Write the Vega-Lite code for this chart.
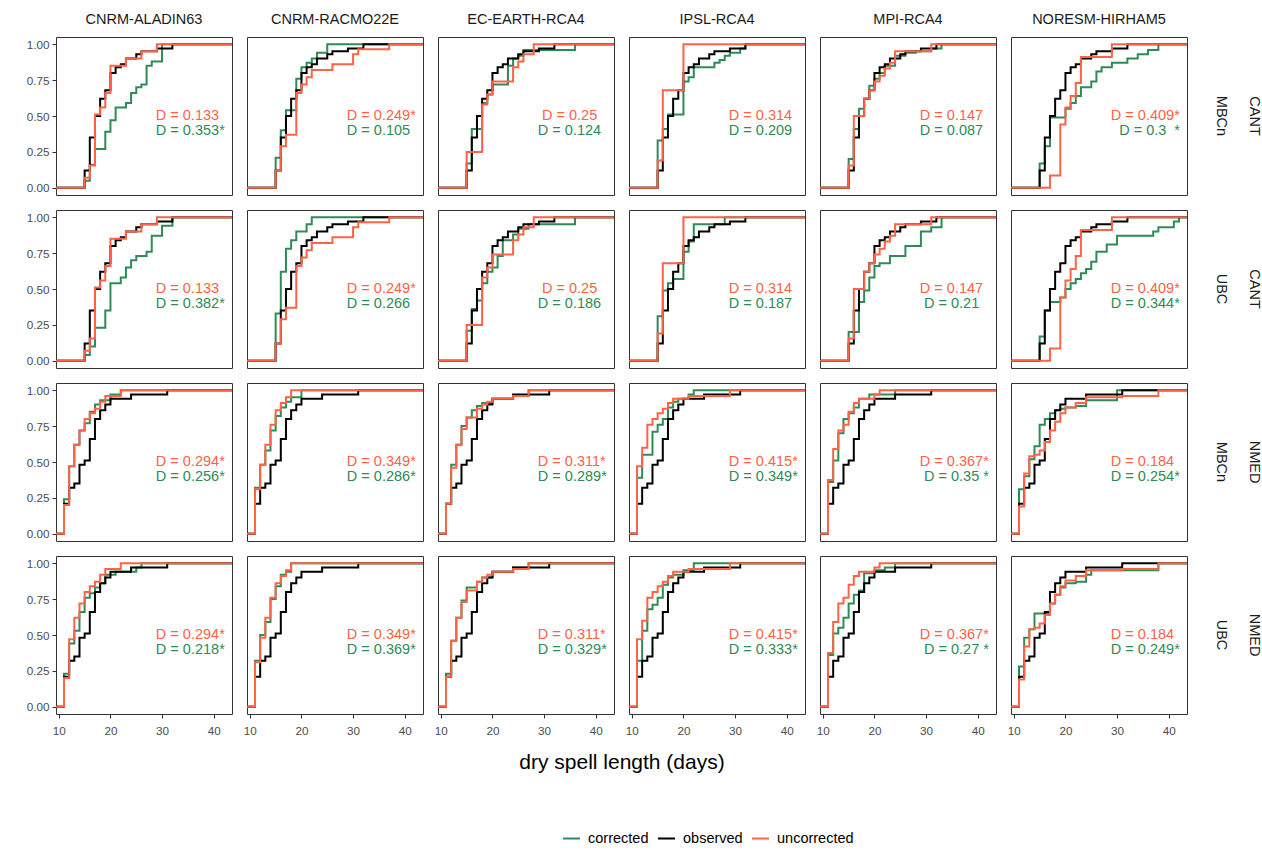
{
"$schema": "https://vega.github.io/schema/vega-lite/v6.json",
"background": "white",
"bounds": "flush",
"padding": {"left": 26, "top": 11, "right": 2, "bottom": 5},
"data": {"values": "m,r,s,x,y,t\nA,1,c,9.45,0\nA,1,c,15,.05\nA,1,c,16,.16\nA,1,c,17,.27\nA,1,c,19,.39\nA,1,c,20,.47\nA,1,c,21,.56\nA,1,c,23,.59\nA,1,c,24,.66\nA,1,c,25,.7\nA,1,c,26,.72\nA,1,c,27,.85\nA,1,c,28,.88\nA,1,c,30,1\nA,1,c,43.55,1\nA,1,o,9.45,0\nA,1,o,15,.12\nA,1,o,16,.35\nA,1,o,17,.5\nA,1,o,18,.62\nA,1,o,19,.68\nA,1,o,20,.8\nA,1,o,21,.84\nA,1,o,22,.86\nA,1,o,23,.9\nA,1,o,25,.93\nA,1,o,26,.95\nA,1,o,29,.97\nA,1,o,32,1\nA,1,o,43.55,1\nA,1,u,9.45,0\nA,1,u,15,.07\nA,1,u,16,.155\nA,1,u,17,.51\nA,1,u,18,.56\nA,1,u,19,.66\nA,1,u,20,.85\nA,1,u,23,.9\nA,1,u,26,.95\nA,1,u,29,1\nA,1,u,43.55,1\nA,1,U,28.8,.5,D = 0.133\nA,1,C,28.8,.395,D = 0.353*\nA,2,c,9.45,0\nA,2,c,15,.04\nA,2,c,16,.1\nA,2,c,17,.23\nA,2,c,19,.35\nA,2,c,20,.54\nA,2,c,22,.58\nA,2,c,23,.65\nA,2,c,24,.7\nA,2,c,25,.73\nA,2,c,27,.76\nA,2,c,28,.87\nA,2,c,30,.94\nA,2,c,32,1\nA,2,c,43.55,1\nA,2,o,9.45,0\nA,2,o,15,.12\nA,2,o,16,.35\nA,2,o,17,.5\nA,2,o,18,.62\nA,2,o,19,.68\nA,2,o,20,.8\nA,2,o,21,.84\nA,2,o,22,.86\nA,2,o,23,.9\nA,2,o,25,.93\nA,2,o,26,.95\nA,2,o,29,.97\nA,2,o,32,1\nA,2,o,43.55,1\nA,2,u,9.45,0\nA,2,u,15,.07\nA,2,u,16,.155\nA,2,u,17,.51\nA,2,u,18,.56\nA,2,u,19,.66\nA,2,u,20,.85\nA,2,u,23,.9\nA,2,u,26,.95\nA,2,u,29,1\nA,2,u,43.55,1\nA,2,U,28.8,.5,D = 0.133\nA,2,C,28.8,.395,D = 0.382*\nA,3,c,9.45,0\nA,3,c,11,.24\nA,3,c,12,.47\nA,3,c,13,.62\nA,3,c,14,.72\nA,3,c,15,.77\nA,3,c,16,.85\nA,3,c,17,.9\nA,3,c,18,.93\nA,3,c,20,.97\nA,3,c,22,1\nA,3,c,43.55,1\nA,3,o,9.45,0\nA,3,o,11,.21\nA,3,o,12,.32\nA,3,o,13,.35\nA,3,o,14,.48\nA,3,o,15,.51\nA,3,o,16,.66\nA,3,o,17,.8\nA,3,o,18,.86\nA,3,o,19,.9\nA,3,o,20,.94\nA,3,o,24,.97\nA,3,o,31,1\nA,3,o,43.55,1\nA,3,u,9.45,0\nA,3,u,11,.2\nA,3,u,12,.47\nA,3,u,13,.62\nA,3,u,14,.72\nA,3,u,15,.8\nA,3,u,16,.84\nA,3,u,17,.87\nA,3,u,18,.92\nA,3,u,19,.96\nA,3,u,22,1\nA,3,u,43.55,1\nA,3,U,28.8,.5,D = 0.294*\nA,3,C,28.8,.395,D = 0.256*\nA,4,c,9.45,0\nA,4,c,11,.23\nA,4,c,12,.44\nA,4,c,13,.53\nA,4,c,14,.66\nA,4,c,15,.76\nA,4,c,16,.79\nA,4,c,17,.83\nA,4,c,18,.86\nA,4,c,19,.92\nA,4,c,21,.94\nA,4,c,25,.97\nA,4,c,26,1\nA,4,c,43.55,1\nA,4,o,9.45,0\nA,4,o,11,.21\nA,4,o,12,.32\nA,4,o,13,.35\nA,4,o,14,.48\nA,4,o,15,.51\nA,4,o,16,.66\nA,4,o,17,.8\nA,4,o,18,.86\nA,4,o,19,.9\nA,4,o,20,.94\nA,4,o,24,.97\nA,4,o,31,1\nA,4,o,43.55,1\nA,4,u,9.45,0\nA,4,u,11,.2\nA,4,u,12,.47\nA,4,u,13,.62\nA,4,u,14,.72\nA,4,u,15,.8\nA,4,u,16,.84\nA,4,u,17,.87\nA,4,u,18,.92\nA,4,u,19,.96\nA,4,u,22,1\nA,4,u,43.55,1\nA,4,U,28.8,.5,D = 0.294*\nA,4,C,28.8,.395,D = 0.218*\nB,1,c,9.45,0\nB,1,c,15,.21\nB,1,c,16,.4\nB,1,c,17,.54\nB,1,c,19,.76\nB,1,c,20,.84\nB,1,c,21,.87\nB,1,c,22,.9\nB,1,c,23,.94\nB,1,c,25,1\nB,1,c,43.55,1\nB,1,o,9.45,0\nB,1,o,15,.12\nB,1,o,16,.35\nB,1,o,17,.5\nB,1,o,18,.62\nB,1,o,19,.68\nB,1,o,20,.8\nB,1,o,21,.84\nB,1,o,22,.86\nB,1,o,23,.9\nB,1,o,25,.93\nB,1,o,26,.95\nB,1,o,29,.97\nB,1,o,32,1\nB,1,o,43.55,1\nB,1,u,9.45,0\nB,1,u,15,.12\nB,1,u,16,.29\nB,1,u,17,.37\nB,1,u,19,.66\nB,1,u,20,.72\nB,1,u,21,.77\nB,1,u,22,.82\nB,1,u,26,.86\nB,1,u,30,.93\nB,1,u,31,.965\nB,1,u,37,1\nB,1,u,43.55,1\nB,1,U,28.8,.5,D = 0.249*\nB,1,C,28.8,.395,D = 0.105\nB,2,c,9.45,0\nB,2,c,15,.33\nB,2,c,16,.62\nB,2,c,17,.78\nB,2,c,18,.84\nB,2,c,19,.9\nB,2,c,21,.95\nB,2,c,22,1\nB,2,c,43.55,1\nB,2,o,9.45,0\nB,2,o,15,.12\nB,2,o,16,.35\nB,2,o,17,.5\nB,2,o,18,.62\nB,2,o,19,.68\nB,2,o,20,.8\nB,2,o,21,.84\nB,2,o,22,.86\nB,2,o,23,.9\nB,2,o,25,.93\nB,2,o,26,.95\nB,2,o,29,.97\nB,2,o,32,1\nB,2,o,43.55,1\nB,2,u,9.45,0\nB,2,u,15,.12\nB,2,u,16,.29\nB,2,u,17,.37\nB,2,u,19,.66\nB,2,u,20,.72\nB,2,u,21,.77\nB,2,u,22,.82\nB,2,u,26,.86\nB,2,u,30,.93\nB,2,u,31,.965\nB,2,u,37,1\nB,2,u,43.55,1\nB,2,U,28.8,.5,D = 0.249*\nB,2,C,28.8,.395,D = 0.266\nB,3,c,9.45,0\nB,3,c,11,.32\nB,3,c,12,.48\nB,3,c,13,.58\nB,3,c,14,.72\nB,3,c,15,.82\nB,3,c,16,.88\nB,3,c,17,.92\nB,3,c,18,.95\nB,3,c,20,1\nB,3,c,43.55,1\nB,3,o,9.45,0\nB,3,o,11,.21\nB,3,o,12,.32\nB,3,o,13,.35\nB,3,o,14,.48\nB,3,o,15,.51\nB,3,o,16,.66\nB,3,o,17,.8\nB,3,o,18,.86\nB,3,o,19,.9\nB,3,o,20,.94\nB,3,o,24,.97\nB,3,o,31,1\nB,3,o,43.55,1\nB,3,u,9.45,0\nB,3,u,11,.31\nB,3,u,12,.48\nB,3,u,13,.62\nB,3,u,14,.76\nB,3,u,15,.86\nB,3,u,16,.91\nB,3,u,17,.95\nB,3,u,18,1\nB,3,u,43.55,1\nB,3,U,28.8,.5,D = 0.349*\nB,3,C,28.8,.395,D = 0.286*\nB,4,c,9.45,0\nB,4,c,11,.32\nB,4,c,12,.5\nB,4,c,13,.59\nB,4,c,14,.75\nB,4,c,15,.84\nB,4,c,16,.92\nB,4,c,17,.94\nB,4,c,18,1\nB,4,c,43.55,1\nB,4,o,9.45,0\nB,4,o,11,.21\nB,4,o,12,.32\nB,4,o,13,.35\nB,4,o,14,.48\nB,4,o,15,.51\nB,4,o,16,.66\nB,4,o,17,.8\nB,4,o,18,.86\nB,4,o,19,.9\nB,4,o,20,.94\nB,4,o,24,.97\nB,4,o,31,1\nB,4,o,43.55,1\nB,4,u,9.45,0\nB,4,u,11,.31\nB,4,u,12,.48\nB,4,u,13,.62\nB,4,u,14,.76\nB,4,u,15,.86\nB,4,u,16,.91\nB,4,u,17,.95\nB,4,u,18,1\nB,4,u,43.55,1\nB,4,U,28.8,.5,D = 0.349*\nB,4,C,28.8,.395,D = 0.369*\nC,1,c,9.45,0\nC,1,c,15,.17\nC,1,c,16,.41\nC,1,c,18,.59\nC,1,c,19,.65\nC,1,c,20,.72\nC,1,c,23,.85\nC,1,c,24,.9\nC,1,c,25,.92\nC,1,c,26,.96\nC,1,c,36,1\nC,1,c,43.55,1\nC,1,o,9.45,0\nC,1,o,15,.12\nC,1,o,16,.35\nC,1,o,17,.5\nC,1,o,18,.62\nC,1,o,19,.68\nC,1,o,20,.8\nC,1,o,21,.84\nC,1,o,22,.86\nC,1,o,23,.9\nC,1,o,25,.93\nC,1,o,26,.95\nC,1,o,29,.97\nC,1,o,32,1\nC,1,o,43.55,1\nC,1,u,9.45,0\nC,1,u,15,.25\nC,1,u,18,.58\nC,1,u,19,.65\nC,1,u,20,.74\nC,1,u,24,.84\nC,1,u,25,.88\nC,1,u,26,.93\nC,1,u,28,1\nC,1,u,43.55,1\nC,1,U,29.6,.5,D = 0.25\nC,1,C,28.8,.395,D = 0.124\nC,2,c,9.45,0\nC,2,c,15,.21\nC,2,c,16,.36\nC,2,c,17,.42\nC,2,c,18,.54\nC,2,c,19,.62\nC,2,c,20,.65\nC,2,c,21,.73\nC,2,c,22,.84\nC,2,c,24,.88\nC,2,c,25,.92\nC,2,c,27,.95\nC,2,c,36,1\nC,2,c,43.55,1\nC,2,o,9.45,0\nC,2,o,15,.12\nC,2,o,16,.35\nC,2,o,17,.5\nC,2,o,18,.62\nC,2,o,19,.68\nC,2,o,20,.8\nC,2,o,21,.84\nC,2,o,22,.86\nC,2,o,23,.9\nC,2,o,25,.93\nC,2,o,26,.95\nC,2,o,29,.97\nC,2,o,32,1\nC,2,o,43.55,1\nC,2,u,9.45,0\nC,2,u,15,.25\nC,2,u,18,.58\nC,2,u,19,.65\nC,2,u,20,.74\nC,2,u,24,.84\nC,2,u,25,.88\nC,2,u,26,.93\nC,2,u,28,1\nC,2,u,43.55,1\nC,2,U,29.6,.5,D = 0.25\nC,2,C,28.8,.395,D = 0.186\nC,3,c,9.45,0\nC,3,c,11,.21\nC,3,c,12,.48\nC,3,c,13,.62\nC,3,c,14,.75\nC,3,c,15,.81\nC,3,c,16,.86\nC,3,c,17,.89\nC,3,c,18,.91\nC,3,c,20,.94\nC,3,c,24,.96\nC,3,c,27,1\nC,3,c,43.55,1\nC,3,o,9.45,0\nC,3,o,11,.21\nC,3,o,12,.32\nC,3,o,13,.35\nC,3,o,14,.48\nC,3,o,15,.51\nC,3,o,16,.66\nC,3,o,17,.8\nC,3,o,18,.86\nC,3,o,19,.9\nC,3,o,20,.94\nC,3,o,24,.97\nC,3,o,31,1\nC,3,o,43.55,1\nC,3,u,9.45,0\nC,3,u,11,.21\nC,3,u,12,.46\nC,3,u,13,.62\nC,3,u,14,.73\nC,3,u,15,.81\nC,3,u,17,.87\nC,3,u,18,.9\nC,3,u,19,.92\nC,3,u,20,.94\nC,3,u,24,.96\nC,3,u,27,1\nC,3,u,43.55,1\nC,3,U,28.8,.5,D = 0.311*\nC,3,C,28.8,.395,D = 0.289*\nC,4,c,9.45,0\nC,4,c,11,.23\nC,4,c,12,.46\nC,4,c,13,.62\nC,4,c,14,.74\nC,4,c,15,.83\nC,4,c,17,.87\nC,4,c,18,.9\nC,4,c,20,.94\nC,4,c,24,.97\nC,4,c,27,1\nC,4,c,43.55,1\nC,4,o,9.45,0\nC,4,o,11,.21\nC,4,o,12,.32\nC,4,o,13,.35\nC,4,o,14,.48\nC,4,o,15,.51\nC,4,o,16,.66\nC,4,o,17,.8\nC,4,o,18,.86\nC,4,o,19,.9\nC,4,o,20,.94\nC,4,o,24,.97\nC,4,o,31,1\nC,4,o,43.55,1\nC,4,u,9.45,0\nC,4,u,11,.21\nC,4,u,12,.46\nC,4,u,13,.62\nC,4,u,14,.73\nC,4,u,15,.81\nC,4,u,17,.87\nC,4,u,18,.9\nC,4,u,19,.92\nC,4,u,20,.94\nC,4,u,24,.96\nC,4,u,27,1\nC,4,u,43.55,1\nC,4,U,28.8,.5,D = 0.311*\nC,4,C,28.8,.395,D = 0.329*\nD,1,c,9.45,0\nD,1,c,15,.33\nD,1,c,16,.41\nD,1,c,17,.51\nD,1,c,20,.74\nD,1,c,21,.77\nD,1,c,22,.84\nD,1,c,26,.87\nD,1,c,27,.89\nD,1,c,28,.92\nD,1,c,29,.94\nD,1,c,31,.97\nD,1,c,32,1\nD,1,c,43.55,1\nD,1,o,9.45,0\nD,1,o,15,.12\nD,1,o,16,.35\nD,1,o,17,.5\nD,1,o,18,.62\nD,1,o,19,.68\nD,1,o,20,.8\nD,1,o,21,.84\nD,1,o,22,.86\nD,1,o,23,.9\nD,1,o,25,.93\nD,1,o,26,.95\nD,1,o,29,.97\nD,1,o,32,1\nD,1,o,43.55,1\nD,1,u,9.45,0\nD,1,u,15,.19\nD,1,u,16,.68\nD,1,u,20,1\nD,1,u,43.55,1\nD,1,U,28.8,.5,D = 0.314\nD,1,C,28.8,.395,D = 0.209\nD,2,c,9.45,0\nD,2,c,15,.31\nD,2,c,16,.49\nD,2,c,17,.54\nD,2,c,18,.57\nD,2,c,20,.76\nD,2,c,21,.83\nD,2,c,22,.95\nD,2,c,28,1\nD,2,c,43.55,1\nD,2,o,9.45,0\nD,2,o,15,.12\nD,2,o,16,.35\nD,2,o,17,.5\nD,2,o,18,.62\nD,2,o,19,.68\nD,2,o,20,.8\nD,2,o,21,.84\nD,2,o,22,.86\nD,2,o,23,.9\nD,2,o,25,.93\nD,2,o,26,.95\nD,2,o,29,.97\nD,2,o,32,1\nD,2,o,43.55,1\nD,2,u,9.45,0\nD,2,u,15,.19\nD,2,u,16,.68\nD,2,u,20,1\nD,2,u,43.55,1\nD,2,U,28.8,.5,D = 0.314\nD,2,C,28.8,.395,D = 0.187\nD,3,c,9.45,0\nD,3,c,11,.39\nD,3,c,12,.55\nD,3,c,14,.71\nD,3,c,15,.76\nD,3,c,16,.8\nD,3,c,17,.88\nD,3,c,18,.92\nD,3,c,19,.94\nD,3,c,21,.97\nD,3,c,22,1\nD,3,c,43.55,1\nD,3,o,9.45,0\nD,3,o,11,.21\nD,3,o,12,.32\nD,3,o,13,.35\nD,3,o,14,.48\nD,3,o,15,.51\nD,3,o,16,.66\nD,3,o,17,.8\nD,3,o,18,.86\nD,3,o,19,.9\nD,3,o,20,.94\nD,3,o,24,.97\nD,3,o,31,1\nD,3,o,43.55,1\nD,3,u,9.45,0\nD,3,u,11,.47\nD,3,u,12,.6\nD,3,u,13,.76\nD,3,u,14,.8\nD,3,u,15,.84\nD,3,u,16,.87\nD,3,u,17,.91\nD,3,u,18,.94\nD,3,u,21,.96\nD,3,u,29,1\nD,3,u,43.55,1\nD,3,U,28.8,.5,D = 0.415*\nD,3,C,28.8,.395,D = 0.349*\nD,4,c,9.45,0\nD,4,c,11,.32\nD,4,c,12,.53\nD,4,c,13,.68\nD,4,c,14,.71\nD,4,c,15,.76\nD,4,c,16,.85\nD,4,c,17,.9\nD,4,c,18,.92\nD,4,c,20,.95\nD,4,c,22,1\nD,4,c,43.55,1\nD,4,o,9.45,0\nD,4,o,11,.21\nD,4,o,12,.32\nD,4,o,13,.35\nD,4,o,14,.48\nD,4,o,15,.51\nD,4,o,16,.66\nD,4,o,17,.8\nD,4,o,18,.86\nD,4,o,19,.9\nD,4,o,20,.94\nD,4,o,24,.97\nD,4,o,31,1\nD,4,o,43.55,1\nD,4,u,9.45,0\nD,4,u,11,.47\nD,4,u,12,.6\nD,4,u,13,.76\nD,4,u,14,.8\nD,4,u,15,.84\nD,4,u,16,.87\nD,4,u,17,.91\nD,4,u,18,.94\nD,4,u,21,.96\nD,4,u,29,1\nD,4,u,43.55,1\nD,4,U,28.8,.5,D = 0.415*\nD,4,C,28.8,.395,D = 0.333*\nE,1,c,9.45,0\nE,1,c,15,.2\nE,1,c,16,.41\nE,1,c,17,.55\nE,1,c,18,.62\nE,1,c,19,.71\nE,1,c,20,.76\nE,1,c,21,.8\nE,1,c,22,.85\nE,1,c,24,.92\nE,1,c,26,.94\nE,1,c,28,.95\nE,1,c,31,.97\nE,1,c,33,1\nE,1,c,43.55,1\nE,1,o,9.45,0\nE,1,o,15,.12\nE,1,o,16,.35\nE,1,o,17,.5\nE,1,o,18,.62\nE,1,o,19,.68\nE,1,o,20,.8\nE,1,o,21,.84\nE,1,o,22,.86\nE,1,o,23,.9\nE,1,o,25,.93\nE,1,o,26,.95\nE,1,o,29,.97\nE,1,o,32,1\nE,1,o,43.55,1\nE,1,u,9.45,0\nE,1,u,15,.155\nE,1,u,16,.5\nE,1,u,18,.62\nE,1,u,19,.68\nE,1,u,20,.74\nE,1,u,21,.78\nE,1,u,22,.83\nE,1,u,23,.87\nE,1,u,24,.95\nE,1,u,31,1\nE,1,u,43.55,1\nE,1,U,28.8,.5,D = 0.147\nE,1,C,28.8,.395,D = 0.087\nE,2,c,9.45,0\nE,2,c,15,.2\nE,2,c,17,.41\nE,2,c,18,.49\nE,2,c,19,.58\nE,2,c,20,.66\nE,2,c,21,.68\nE,2,c,23,.73\nE,2,c,26,.8\nE,2,c,29,.9\nE,2,c,31,.93\nE,2,c,33,1\nE,2,c,43.55,1\nE,2,o,9.45,0\nE,2,o,15,.12\nE,2,o,16,.35\nE,2,o,17,.5\nE,2,o,18,.62\nE,2,o,19,.68\nE,2,o,20,.8\nE,2,o,21,.84\nE,2,o,22,.86\nE,2,o,23,.9\nE,2,o,25,.93\nE,2,o,26,.95\nE,2,o,29,.97\nE,2,o,32,1\nE,2,o,43.55,1\nE,2,u,9.45,0\nE,2,u,15,.155\nE,2,u,16,.5\nE,2,u,18,.62\nE,2,u,19,.68\nE,2,u,20,.74\nE,2,u,21,.78\nE,2,u,22,.83\nE,2,u,23,.87\nE,2,u,24,.95\nE,2,u,31,1\nE,2,u,43.55,1\nE,2,U,28.8,.5,D = 0.147\nE,2,C,29.6,.395,D = 0.21\nE,3,c,9.45,0\nE,3,c,11,.36\nE,3,c,12,.51\nE,3,c,13,.7\nE,3,c,14,.8\nE,3,c,15,.84\nE,3,c,16,.88\nE,3,c,17,.94\nE,3,c,19,.97\nE,3,c,24,1\nE,3,c,43.55,1\nE,3,o,9.45,0\nE,3,o,11,.21\nE,3,o,12,.32\nE,3,o,13,.35\nE,3,o,14,.48\nE,3,o,15,.51\nE,3,o,16,.66\nE,3,o,17,.8\nE,3,o,18,.86\nE,3,o,19,.9\nE,3,o,20,.94\nE,3,o,24,.97\nE,3,o,31,1\nE,3,o,43.55,1\nE,3,u,9.45,0\nE,3,u,11,.375\nE,3,u,12,.59\nE,3,u,13,.72\nE,3,u,14,.76\nE,3,u,15,.85\nE,3,u,16,.91\nE,3,u,17,.94\nE,3,u,20,.97\nE,3,u,21,1\nE,3,u,43.55,1\nE,3,U,28.8,.5,D = 0.367*\nE,3,C,29.6,.395,D = 0.35\u00a0*\nE,4,c,9.45,0\nE,4,c,11,.36\nE,4,c,12,.51\nE,4,c,13,.55\nE,4,c,14,.62\nE,4,c,15,.72\nE,4,c,16,.78\nE,4,c,17,.81\nE,4,c,18,.93\nE,4,c,20,.95\nE,4,c,22,.97\nE,4,c,24,1\nE,4,c,43.55,1\nE,4,o,9.45,0\nE,4,o,11,.21\nE,4,o,12,.32\nE,4,o,13,.35\nE,4,o,14,.48\nE,4,o,15,.51\nE,4,o,16,.66\nE,4,o,17,.8\nE,4,o,18,.86\nE,4,o,19,.9\nE,4,o,20,.94\nE,4,o,24,.97\nE,4,o,31,1\nE,4,o,43.55,1\nE,4,u,9.45,0\nE,4,u,11,.375\nE,4,u,12,.59\nE,4,u,13,.72\nE,4,u,14,.76\nE,4,u,15,.85\nE,4,u,16,.91\nE,4,u,17,.94\nE,4,u,20,.97\nE,4,u,21,1\nE,4,u,43.55,1\nE,4,U,28.8,.5,D = 0.367*\nE,4,C,29.6,.395,D = 0.27\u00a0*\nF,1,c,9.45,0\nF,1,c,15,.17\nF,1,c,16,.29\nF,1,c,17,.49\nF,1,c,20,.55\nF,1,c,21,.59\nF,1,c,22,.64\nF,1,c,23,.7\nF,1,c,25,.74\nF,1,c,26,.81\nF,1,c,27,.84\nF,1,c,29,.87\nF,1,c,32,.9\nF,1,c,34,.93\nF,1,c,36,.96\nF,1,c,38,1\nF,1,c,43.55,1\nF,1,o,9.45,0\nF,1,o,15,.12\nF,1,o,16,.35\nF,1,o,17,.5\nF,1,o,18,.62\nF,1,o,19,.68\nF,1,o,20,.8\nF,1,o,21,.84\nF,1,o,22,.86\nF,1,o,23,.9\nF,1,o,25,.93\nF,1,o,26,.95\nF,1,o,29,.97\nF,1,o,32,1\nF,1,o,43.55,1\nF,1,u,9.45,0\nF,1,u,17,.085\nF,1,u,19,.44\nF,1,u,20,.56\nF,1,u,21,.64\nF,1,u,22,.73\nF,1,u,23,.91\nF,1,u,29,1\nF,1,u,43.55,1\nF,1,U,28.8,.5,D = 0.409*\nF,1,C,30.4,.395,D = 0.3\u00a0\u00a0*\nF,2,c,9.45,0\nF,2,c,15,.17\nF,2,c,16,.35\nF,2,c,17,.41\nF,2,c,19,.44\nF,2,c,20,.5\nF,2,c,21,.54\nF,2,c,22,.57\nF,2,c,23,.61\nF,2,c,24,.64\nF,2,c,25,.69\nF,2,c,26,.76\nF,2,c,28,.81\nF,2,c,30,.87\nF,2,c,37,.9\nF,2,c,38,.93\nF,2,c,41,.97\nF,2,c,42,1\nF,2,c,43.55,1\nF,2,o,9.45,0\nF,2,o,15,.12\nF,2,o,16,.35\nF,2,o,17,.5\nF,2,o,18,.62\nF,2,o,19,.68\nF,2,o,20,.8\nF,2,o,21,.84\nF,2,o,22,.86\nF,2,o,23,.9\nF,2,o,25,.93\nF,2,o,26,.95\nF,2,o,29,.97\nF,2,o,32,1\nF,2,o,43.55,1\nF,2,u,9.45,0\nF,2,u,17,.085\nF,2,u,19,.44\nF,2,u,20,.56\nF,2,u,21,.64\nF,2,u,22,.73\nF,2,u,23,.91\nF,2,u,29,1\nF,2,u,43.55,1\nF,2,U,28.8,.5,D = 0.409*\nF,2,C,28.8,.395,D = 0.344*\nF,3,c,9.45,0\nF,3,c,11,.31\nF,3,c,12,.4\nF,3,c,13,.52\nF,3,c,14,.61\nF,3,c,15,.76\nF,3,c,16,.8\nF,3,c,17,.84\nF,3,c,18,.86\nF,3,c,19,.87\nF,3,c,20,.88\nF,3,c,22,.89\nF,3,c,24,.93\nF,3,c,30,1\nF,3,c,43.55,1\nF,3,o,9.45,0\nF,3,o,11,.21\nF,3,o,12,.32\nF,3,o,13,.35\nF,3,o,14,.48\nF,3,o,15,.51\nF,3,o,16,.66\nF,3,o,17,.8\nF,3,o,18,.86\nF,3,o,19,.9\nF,3,o,20,.94\nF,3,o,24,.97\nF,3,o,31,1\nF,3,o,43.55,1\nF,3,u,9.45,0\nF,3,u,11,.19\nF,3,u,12,.42\nF,3,u,13,.54\nF,3,u,14,.55\nF,3,u,15,.58\nF,3,u,16,.64\nF,3,u,17,.72\nF,3,u,18,.78\nF,3,u,19,.84\nF,3,u,20,.88\nF,3,u,22,.91\nF,3,u,24,.95\nF,3,u,31,.96\nF,3,u,38,1\nF,3,u,43.55,1\nF,3,U,28.8,.5,D = 0.184\nF,3,C,28.8,.395,D = 0.254*\nF,4,c,9.45,0\nF,4,c,11,.28\nF,4,c,12,.48\nF,4,c,13,.54\nF,4,c,14,.65\nF,4,c,17,.72\nF,4,c,18,.78\nF,4,c,19,.83\nF,4,c,20,.86\nF,4,c,22,.87\nF,4,c,24,.92\nF,4,c,25,.95\nF,4,c,38,1\nF,4,c,43.55,1\nF,4,o,9.45,0\nF,4,o,11,.21\nF,4,o,12,.32\nF,4,o,13,.35\nF,4,o,14,.48\nF,4,o,15,.51\nF,4,o,16,.66\nF,4,o,17,.8\nF,4,o,18,.86\nF,4,o,19,.9\nF,4,o,20,.94\nF,4,o,24,.97\nF,4,o,31,1\nF,4,o,43.55,1\nF,4,u,9.45,0\nF,4,u,11,.19\nF,4,u,12,.42\nF,4,u,13,.54\nF,4,u,14,.55\nF,4,u,15,.58\nF,4,u,16,.64\nF,4,u,17,.72\nF,4,u,18,.78\nF,4,u,19,.84\nF,4,u,20,.88\nF,4,u,22,.91\nF,4,u,24,.95\nF,4,u,31,.96\nF,4,u,38,1\nF,4,u,43.55,1\nF,4,U,28.8,.5,D = 0.184\nF,4,C,28.8,.395,D = 0.249*\n", "format": {"type": "csv", "parse": {"x": "number", "y": "number"}}},
"transform": [
  {"lookup": "m", "from": {"data": {"values": [{"m": "A", "model": "CNRM-ALADIN63"}, {"m": "B", "model": "CNRM-RACMO22E"}, {"m": "C", "model": "EC-EARTH-RCA4"}, {"m": "D", "model": "IPSL-RCA4"}, {"m": "E", "model": "MPI-RCA4"}, {"m": "F", "model": "NORESM-HIRHAM5"}]}, "key": "m", "fields": ["model"]}},
  {"lookup": "r", "from": {"data": {"values": [{"r": "1", "panel": "CANT MBCn"}, {"r": "2", "panel": "CANT UBC"}, {"r": "3", "panel": "NMED MBCn"}, {"r": "4", "panel": "NMED UBC"}]}, "key": "r", "fields": ["panel"]}},
  {"lookup": "s", "from": {"data": {"values": [{"s": "c", "series": "corrected"}, {"s": "o", "series": "observed"}, {"s": "u", "series": "uncorrected"}, {"s": "C", "series": "corrected"}, {"s": "U", "series": "uncorrected"}]}, "key": "s", "fields": ["series"]}}
],
"facet": {
  "column": {"field": "model", "type": "nominal", "header": {"title": "dry spell length (days)", "titleOrient": "bottom", "titleFontSize": 21, "titleFontWeight": "normal", "titleColor": "#000000", "titlePadding": 5, "labelOrient": "top", "labelFontSize": 14.5, "labelColor": "#1a1a1a", "labelPadding": 10}},
  "row": {"field": "panel", "type": "nominal", "header": {"title": null, "labelOrient": "right", "titleOrient": "right", "labelAngle": 90, "labelAlign": "center", "labelBaseline": "bottom", "labelExpr": "split(datum.value, ' ')", "labelFontSize": 14.5, "labelLineHeight": 33, "labelColor": "#1a1a1a", "labelPadding": 12}}
},
"spacing": {"column": 15, "row": 15},
"spec": {
  "width": 176,
  "height": 158,
  "encoding": {
    "x": {"field": "x", "type": "quantitative", "scale": {"domain": [9.45, 43.55], "nice": false, "zero": false}, "axis": {"values": [10, 20, 30, 40], "title": null, "labelPadding": 7}},
    "y": {"field": "y", "type": "quantitative", "scale": {"domain": [-0.05, 1.05], "nice": false, "zero": false}, "axis": {"values": [0, 0.25, 0.5, 0.75, 1], "format": ".2f", "title": null}}
  },
  "layer": [
    {"transform": [{"filter": "datum.s == 'c'"}], "mark": {"type": "line", "interpolate": "step-after", "strokeWidth": 2, "clip": true},
     "encoding": {"color": {"field": "series", "type": "nominal", "scale": {"domain": ["corrected", "observed", "uncorrected"], "range": ["#2E8B57", "#000000", "#FF6347"]}, "legend": {"orient": "none", "legendX": 506, "legendY": 792, "direction": "horizontal", "title": null}}}},
    {"transform": [{"filter": "datum.s == 'o'"}], "mark": {"type": "line", "interpolate": "step-after", "strokeWidth": 2, "clip": true},
     "encoding": {"color": {"field": "series", "type": "nominal"}}},
    {"transform": [{"filter": "datum.s == 'u'"}], "mark": {"type": "line", "interpolate": "step-after", "strokeWidth": 2, "clip": true},
     "encoding": {"color": {"field": "series", "type": "nominal"}}},
    {"transform": [{"filter": "datum.s == 'U'"}], "mark": {"type": "text", "align": "left", "baseline": "middle", "fontSize": 14.5, "color": "#FF6347"},
     "encoding": {"text": {"field": "t"}}},
    {"transform": [{"filter": "datum.s == 'C'"}], "mark": {"type": "text", "align": "left", "baseline": "middle", "fontSize": 14.5, "color": "#2E8B57"},
     "encoding": {"text": {"field": "t"}}}
  ]
},
"config": {
  "font": "Liberation Sans",
  "view": {"stroke": "#333333", "strokeWidth": 1},
  "axis": {"domain": false, "grid": false, "ticks": true, "tickColor": "#333333", "tickSize": 4, "labelColor": "#4d4d4d", "labelFontSize": 11.7, "labelPadding": 3, "labelFlush": false, "labelOverlap": false},
  "header": {"labelFont": "Liberation Sans", "titleFont": "Liberation Sans"},
  "legend": {"symbolType": "stroke", "symbolStrokeWidth": 2, "symbolSize": 289, "labelOffset": 7, "labelFontSize": 14.5, "labelColor": "#000000", "columnPadding": 5, "labelFont": "Liberation Sans"}
}
}
